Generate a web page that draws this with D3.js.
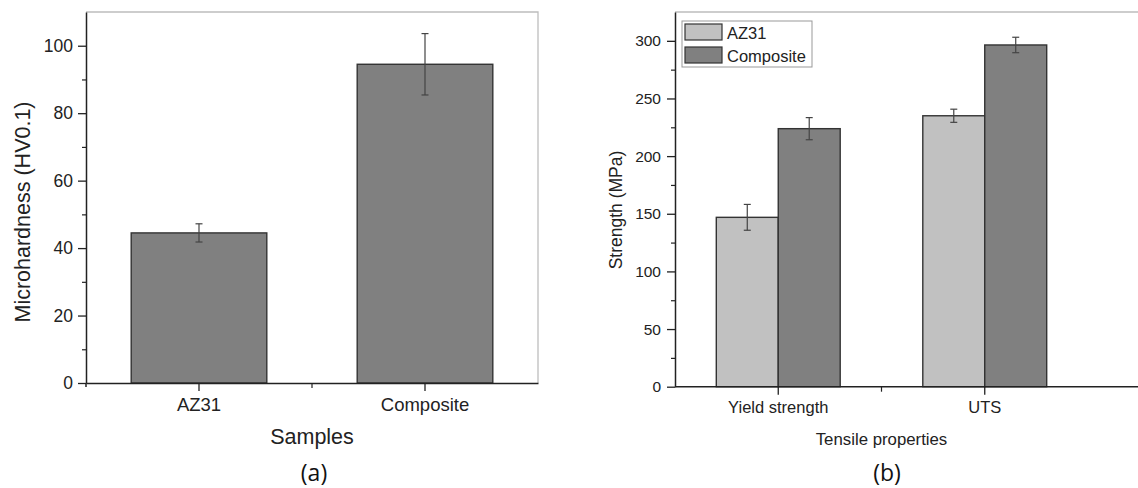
<!DOCTYPE html>
<html>
<head>
<meta charset="utf-8">
<script src="https://cdn.jsdelivr.net/npm/d3@7"></script>
<style>
  body { margin: 0; background: #fff; }
  svg { display: block; }
  .tick text { fill: #222; font-family: "Liberation Sans", Arial, sans-serif; }
  .label { fill: #222; font-family: "Liberation Sans", Arial, sans-serif; }
  .panel-tag { fill: #111; font-family: "Open Sans", sans-serif; }
</style>
</head>
<body>
<div id="chart"></div>
<script>
// (a) microhardness
const hardSamples = ["AZ31", "Composite"]
const hardValues = [44.5, 94.5]
const hardErrors = [2.7, 9.1]
const hardTicks = [0, 20, 40, 60, 80, 100]
const hardMinor = [10, 30, 50, 70, 90]

// (b) tensile properties
const tensileProps = ["Yield strength", "UTS"]
const tensileSeries = ["AZ31", "Composite"]
const az31Strength = [146.9, 235.0]
const az31Errors = [11.2, 5.7]
const compStrength = [223.8, 296.4]
const compErrors = [9.6, 6.7]
const strengthTicks = [0, 50, 100, 150, 200, 250, 300]
const strengthMinor = [25, 75, 125, 175, 225, 275]

const COLORS = { AZ31: "#c1c1c1", Composite: "#808080" }
const AXIS = "#222"
const FRAME = "#bdbdbd"

const W = 1138, H = 488

const svg = d3.select("#chart").append("svg")
    .attr("width", W)
    .attr("height", H)

function styleAxis(g, fontSize) {
    g.select(".domain").attr("stroke", AXIS).attr("stroke-width", 1.5)
    g.selectAll(".tick line").attr("stroke", AXIS).attr("stroke-width", 1.3)
    g.selectAll(".tick text").style("font-size", fontSize + "px")
}

function errorBar(g, cx, yScale, v, e, color) {
    const half = 3.5
    g.append("line")
        .attr("x1", cx).attr("x2", cx)
        .attr("y1", yScale(v + e)).attr("y2", yScale(v - e))
    g.append("line")
        .attr("x1", cx - half).attr("x2", cx + half)
        .attr("y1", yScale(v + e)).attr("y2", yScale(v + e))
    g.append("line")
        .attr("x1", cx - half).attr("x2", cx + half)
        .attr("y1", yScale(v - e)).attr("y2", yScale(v - e))
    g.selectAll("line").attr("stroke", color).attr("stroke-width", 1.2)
}

// ---------- panel (a) ----------
{
    const M = { LEFT: 86, RIGHT: 538, TOP: 12, BOTTOM: 383 }
    const g = svg.append("g")

    const y = d3.scaleLinear().domain([0, 110]).range([M.BOTTOM, M.TOP])
    const x = d3.scaleBand().domain(hardSamples).range([M.LEFT, M.RIGHT]).padding(0)
    const barW = x.bandwidth() * 0.6

    // frame (top and right)
    g.append("path")
        .attr("d", `M${M.LEFT},${M.TOP}H${M.RIGHT}V${M.BOTTOM}`)
        .attr("fill", "none").attr("stroke", FRAME).attr("stroke-width", 1.3)

    g.selectAll(".bar")
        .data(hardSamples)
        .enter()
        .append("rect")
        .attr("class", "bar")
        .attr("x", d => x(d) + x.bandwidth() / 2 - barW / 2)
        .attr("width", barW)
        .attr("y", (d, i) => y(hardValues[i]))
        .attr("height", (d, i) => y(0) - y(hardValues[i]))
        .attr("fill", COLORS.Composite)
        .attr("stroke", "#333")
        .attr("stroke-width", 1.4)

    hardSamples.forEach((d, i) => {
        errorBar(g.append("g"), x(d) + x.bandwidth() / 2, y, hardValues[i], hardErrors[i], "#444")
    })

    const yAxis = g.append("g")
        .attr("transform", `translate(${M.LEFT},0)`)
        .call(d3.axisLeft(y).tickValues(hardTicks).tickSize(8).tickPadding(5).tickSizeOuter(0))
    styleAxis(yAxis, 17.5)

    g.append("g")
        .attr("transform", `translate(${M.LEFT},0)`)
        .call(d3.axisLeft(y).tickValues(hardMinor).tickSize(4).tickFormat("").tickSizeOuter(0))
        .call(a => a.select(".domain").remove())
        .selectAll("line").attr("stroke", AXIS).attr("stroke-width", 1.2)

    const xAxis = g.append("g")
        .attr("transform", `translate(0,${M.BOTTOM})`)
        .call(d3.axisBottom(x).tickSize(8).tickPadding(7).tickSizeOuter(0))
    styleAxis(xAxis, 18.5)

    // minor tick between categories and small overhang at origin
    g.append("line")
        .attr("x1", M.LEFT + x.step()).attr("x2", M.LEFT + x.step())
        .attr("y1", M.BOTTOM).attr("y2", M.BOTTOM + 5)
        .attr("stroke", AXIS).attr("stroke-width", 1.2)
    g.append("line")
        .attr("x1", M.LEFT).attr("x2", M.LEFT)
        .attr("y1", M.BOTTOM).attr("y2", M.BOTTOM + 4)
        .attr("stroke", AXIS).attr("stroke-width", 1.5)

    g.append("text")
        .attr("class", "label")
        .attr("transform", `translate(30,212) rotate(-90)`)
        .attr("text-anchor", "middle")
        .style("font-size", "21.5px")
        .text("Microhardness (HV0.1)")

    g.append("text")
        .attr("class", "label")
        .attr("x", (M.LEFT + M.RIGHT) / 2)
        .attr("y", 444)
        .attr("text-anchor", "middle")
        .style("font-size", "21.5px")
        .text("Samples")

    g.append("text")
        .attr("class", "panel-tag")
        .attr("x", 314)
        .attr("y", 481)
        .attr("text-anchor", "middle")
        .style("font-size", "23px")
        .text("(a)")
}

// ---------- panel (b) ----------
{
    const M = { LEFT: 675, RIGHT: 1088, EDGE: 1138, TOP: 12, BOTTOM: 386.7 }
    const g = svg.append("g")

    const y = d3.scaleLinear().domain([0, 325]).range([M.BOTTOM, M.TOP])
    const x0 = d3.scaleBand().domain(tensileProps).range([M.LEFT, M.RIGHT]).padding(0)
    const groupW = x0.bandwidth() * 0.6
    const x1 = d3.scaleBand().domain(tensileSeries).range([0, groupW]).padding(0)

    const values = { AZ31: az31Strength, Composite: compStrength }
    const errors = { AZ31: az31Errors, Composite: compErrors }

    g.append("line")
        .attr("x1", M.LEFT).attr("x2", M.EDGE)
        .attr("y1", M.TOP).attr("y2", M.TOP)
        .attr("stroke", FRAME).attr("stroke-width", 1.3)

    const groups = g.selectAll(".grp")
        .data(tensileProps)
        .enter()
        .append("g")
        .attr("class", "grp")
        .attr("transform", d => `translate(${x0(d) + x0.bandwidth() / 2 - groupW / 2},0)`)

    groups.each(function (p, i) {
        const gg = d3.select(this)
        tensileSeries.forEach(s => {
            gg.append("rect")
                .attr("x", x1(s))
                .attr("width", x1.bandwidth())
                .attr("y", y(values[s][i]))
                .attr("height", y(0) - y(values[s][i]))
                .attr("fill", COLORS[s])
                .attr("stroke", "#333")
                .attr("stroke-width", 1.4)
        })
        tensileSeries.forEach(s => {
            errorBar(gg.append("g"), x1(s) + x1.bandwidth() / 2, y, values[s][i], errors[s][i], "#444")
        })
    })

    const yAxis = g.append("g")
        .attr("transform", `translate(${M.LEFT},0)`)
        .call(d3.axisLeft(y).tickValues(strengthTicks).tickSize(8).tickPadding(6).tickSizeOuter(0))
    styleAxis(yAxis, 15.5)

    g.append("g")
        .attr("transform", `translate(${M.LEFT},0)`)
        .call(d3.axisLeft(y).tickValues(strengthMinor).tickSize(4).tickFormat("").tickSizeOuter(0))
        .call(a => a.select(".domain").remove())
        .selectAll("line").attr("stroke", AXIS).attr("stroke-width", 1.2)

    const xAxis = g.append("g")
        .attr("transform", `translate(0,${M.BOTTOM})`)
        .call(d3.axisBottom(x0).tickSize(8).tickPadding(7).tickSizeOuter(0))
    styleAxis(xAxis, 16.5)
    xAxis.select(".domain").remove()

    g.append("line")
        .attr("x1", M.LEFT).attr("x2", M.EDGE)
        .attr("y1", M.BOTTOM).attr("y2", M.BOTTOM)
        .attr("stroke", AXIS).attr("stroke-width", 1.5)
    g.append("line")
        .attr("x1", M.LEFT + x0.step()).attr("x2", M.LEFT + x0.step())
        .attr("y1", M.BOTTOM).attr("y2", M.BOTTOM + 5)
        .attr("stroke", AXIS).attr("stroke-width", 1.2)

    // legend
    const legend = g.append("g").attr("transform", `translate(682,21)`)
    legend.append("rect")
        .attr("width", 130).attr("height", 46)
        .attr("fill", "#fff").attr("stroke", "#999").attr("stroke-width", 1)
    const items = legend.selectAll(".leg")
        .data(tensileSeries)
        .enter()
        .append("g")
        .attr("class", "leg")
        .attr("transform", (d, i) => `translate(3,${3 + 23 * i})`)
    items.append("rect")
        .attr("width", 37).attr("height", 16)
        .attr("fill", d => COLORS[d])
        .attr("stroke", "#333").attr("stroke-width", 1.2)
    items.append("text")
        .attr("class", "label")
        .attr("x", 42)
        .attr("y", 14.5)
        .style("font-size", "16.5px")
        .text(d => d)

    g.append("text")
        .attr("class", "label")
        .attr("transform", `translate(622,210) rotate(-90)`)
        .attr("text-anchor", "middle")
        .style("font-size", "17.5px")
        .text("Strength (MPa)")

    g.append("text")
        .attr("class", "label")
        .attr("x", M.LEFT + x0.step())
        .attr("y", 445)
        .attr("text-anchor", "middle")
        .style("font-size", "16.8px")
        .text("Tensile properties")

    g.append("text")
        .attr("class", "panel-tag")
        .attr("x", 887)
        .attr("y", 481)
        .attr("text-anchor", "middle")
        .style("font-size", "23px")
        .text("(b)")
}
</script>
</body>
</html>
